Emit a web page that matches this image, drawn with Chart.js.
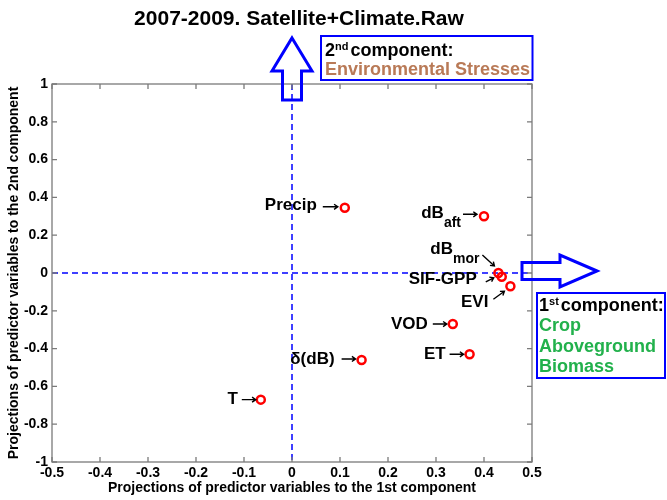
<!DOCTYPE html>
<html>
<head>
<meta charset="utf-8">
<script src="https://cdn.jsdelivr.net/npm/chart.js@4/dist/chart.umd.min.js"></script>
<style>
  html, body { margin: 0; padding: 0; background: #fff; }
  #wrap { width: 667px; height: 500px; }
</style>
</head>
<body>
<div id="wrap"><canvas id="c" width="667" height="500"></canvas></div>
<script>
// Predictor variables and their projections onto the two components
const categories = ['Precip', 'δ(dB)', 'T', 'dB_aft', 'dB_mor', 'SIF-GPP', 'EVI', 'VOD', 'ET'];
const comp1 = [0.11, 0.145, -0.065, 0.40, 0.43, 0.437, 0.455, 0.335, 0.37];
const comp2 = [0.345, -0.46, -0.67, 0.30, 0.0, -0.02, -0.07, -0.27, -0.43];

// Label text: main part and TeX-style subscript
const labelMain = ['Precip', 'δ(dB)', 'T', 'dB', 'dB', 'SIF-GPP', 'EVI', 'VOD', 'ET'];
const labelSub  = ['', '', '', 'aft', 'mor', '', '', '', ''];

// Axis ticks
const xTicks = [-0.5, -0.4, -0.3, -0.2, -0.1, 0, 0.1, 0.2, 0.3, 0.4, 0.5];
const yTicks = [-1, -0.8, -0.6, -0.4, -0.2, 0, 0.2, 0.4, 0.6, 0.8, 1];

const titleText = '2007-2009. Satellite+Climate.Raw';
const xTitle = 'Projections of predictor variables to the 1st component';
const yTitle = 'Projections of predictor variables to the 2nd component';

// Label placement relative to each marker (pixels): right end of text,
// vertical centre of text, and the small pointer arrow.
const labelLayout = [
  { tx: -28, ty: -2,  a: [-22, -1, -7, -1] },
  { tx: -27, ty: -1,  a: [-20, -1, -6, -1] },
  { tx: -23, ty: 0,   a: [-19, 0, -5, 0] },
  { tx: -23, ty: -3,  a: [-21, -2, -7, -2] },
  { tx: -19, ty: -24, a: [-16, -18, -4, -7] },
  { tx: -25, ty: 3,   a: [-16, 5, -8, 1] },
  { tx: -22, ty: 16,  a: [-17, 13, -6, 5] },
  { tx: -25, ty: 0,   a: [-20, 0, -6, 0] },
  { tx: -24, ty: 0,   a: [-20, 0, -6, 0] }
];

const FONT = '"Liberation Sans", Arial, Helvetica, sans-serif';
const BLUE = '#0000ff';
const BROWN = '#b97a57';
const GREEN = '#22b14c';

function fmt(v) { return String(Number(v.toFixed(1))); }

function arrowLine(ctx, x1, y1, x2, y2) {
  const ang = Math.atan2(y2 - y1, x2 - x1);
  const h = 4.5;
  ctx.beginPath();
  ctx.moveTo(x1, y1);
  ctx.lineTo(x2, y2);
  ctx.moveTo(x2 - h * Math.cos(ang - 0.6), y2 - h * Math.sin(ang - 0.6));
  ctx.lineTo(x2, y2);
  ctx.lineTo(x2 - h * Math.cos(ang + 0.6), y2 - h * Math.sin(ang + 0.6));
  ctx.stroke();
}

const decor = {
  id: 'decor',
  beforeDatasetsDraw(chart) {
    const { ctx, chartArea: ca, scales: { x, y } } = chart;
    const x0 = x.getPixelForValue(0), y0 = y.getPixelForValue(0);
    ctx.save();
    // dashed zero lines
    ctx.strokeStyle = BLUE;
    ctx.lineWidth = 1.5;
    ctx.setLineDash([6, 4]);
    ctx.beginPath();
    ctx.moveTo(ca.left, y0); ctx.lineTo(ca.right, y0);
    ctx.moveTo(x0, ca.top); ctx.lineTo(x0, ca.bottom);
    ctx.stroke();
    ctx.setLineDash([]);
    // axes box with inward ticks on all sides
    ctx.strokeStyle = '#7a7a7a';
    ctx.lineWidth = 1.3;
    ctx.strokeRect(ca.left, ca.top, ca.right - ca.left, ca.bottom - ca.top);
    const tl = 5;
    ctx.beginPath();
    xTicks.forEach(v => {
      const px = x.getPixelForValue(v);
      ctx.moveTo(px, ca.bottom); ctx.lineTo(px, ca.bottom - tl);
      ctx.moveTo(px, ca.top); ctx.lineTo(px, ca.top + tl);
    });
    yTicks.forEach(v => {
      const py = y.getPixelForValue(v);
      ctx.moveTo(ca.left, py); ctx.lineTo(ca.left + tl, py);
      ctx.moveTo(ca.right, py); ctx.lineTo(ca.right - tl, py);
    });
    ctx.stroke();
    ctx.restore();
  },
  afterDraw(chart) {
    const { ctx, chartArea: ca, scales: { x, y } } = chart;
    const x0 = x.getPixelForValue(0), y0 = y.getPixelForValue(0);
    ctx.save();
    ctx.fillStyle = '#000';
    ctx.textBaseline = 'middle';

    // title
    ctx.font = 'bold 21px ' + FONT;
    ctx.textAlign = 'center';
    ctx.fillText(titleText, 299, 19);

    // axis titles
    ctx.font = 'bold 14px ' + FONT;
    ctx.fillText(xTitle, (ca.left + ca.right) / 2, 488);
    ctx.save();
    ctx.translate(14, (ca.top + ca.bottom) / 2);
    ctx.rotate(-Math.PI / 2);
    ctx.fillText(yTitle, 0, 0);
    ctx.restore();

    // point labels with pointer arrows
    ctx.textAlign = 'left';
    ctx.strokeStyle = '#000';
    ctx.lineWidth = 1.4;
    comp1.forEach((v, i) => {
      const px = x.getPixelForValue(v);
      const py = y.getPixelForValue(comp2[i]);
      const L = labelLayout[i];
      ctx.font = 'bold 17px ' + FONT;
      const wm = ctx.measureText(labelMain[i]).width;
      ctx.font = 'bold 14px ' + FONT;
      const ws = labelSub[i] ? ctx.measureText(labelSub[i]).width : 0;
      const sx = px + L.tx - wm - ws;
      ctx.font = 'bold 17px ' + FONT;
      ctx.fillText(labelMain[i], sx, py + L.ty);
      if (labelSub[i]) {
        ctx.font = 'bold 14px ' + FONT;
        ctx.fillText(labelSub[i], sx + wm, py + L.ty + 10);
      }
      arrowLine(ctx, px + L.a[0], py + L.a[1], px + L.a[2], py + L.a[3]);
    });

    // big outline arrows marking the component directions
    ctx.strokeStyle = BLUE;
    ctx.lineWidth = 3;
    ctx.lineJoin = 'miter';
    ctx.beginPath();
    ctx.moveTo(x0, 38);
    ctx.lineTo(x0 + 20, 71); ctx.lineTo(x0 + 9.5, 71); ctx.lineTo(x0 + 9.5, 100);
    ctx.lineTo(x0 - 9.5, 100); ctx.lineTo(x0 - 9.5, 71); ctx.lineTo(x0 - 20, 71);
    ctx.closePath();
    ctx.stroke();
    const ay = y0 - 2;
    ctx.beginPath();
    ctx.moveTo(597, ay);
    ctx.lineTo(560, ay - 16); ctx.lineTo(560, ay - 8.5); ctx.lineTo(522, ay - 8.5);
    ctx.lineTo(522, ay + 8.5); ctx.lineTo(560, ay + 8.5); ctx.lineTo(560, ay + 16);
    ctx.closePath();
    ctx.stroke();

    // component boxes
    ctx.lineWidth = 2;
    ctx.strokeRect(321, 36, 211.5, 44);
    ctx.strokeRect(537, 293, 128, 85);
    ctx.textBaseline = 'alphabetic';

    function supLine(num, sup, rest, x, base) {
      ctx.fillStyle = '#000';
      ctx.font = 'bold 18px ' + FONT;
      ctx.fillText(num, x, base);
      let cx = x + ctx.measureText(num).width;
      ctx.font = 'bold 11px ' + FONT;
      ctx.fillText(sup, cx, base - 6);
      cx += ctx.measureText(sup).width + 2;
      ctx.font = 'bold 18px ' + FONT;
      ctx.fillText(rest, cx, base);
    }
    supLine('2', 'nd', 'component:', 325, 56);
    ctx.fillStyle = BROWN;
    ctx.font = 'bold 18px ' + FONT;
    ctx.fillText('Environmental Stresses', 325, 75);

    supLine('1', 'st', 'component:', 539, 311);
    ctx.fillStyle = GREEN;
    ctx.font = 'bold 18px ' + FONT;
    ctx.fillText('Crop', 539, 331);
    ctx.fillText('Aboveground', 539, 352);
    ctx.fillText('Biomass', 539, 372);
    ctx.restore();
  }
};

new Chart(document.getElementById('c'), {
  type: 'scatter',
  data: {
    datasets: [{
      label: 'Projections',
      data: comp1.map((v, i) => ({ x: v, y: comp2[i] })),
      pointStyle: 'circle',
      radius: 4,
      borderWidth: 2.5,
      borderColor: '#ff0000',
      backgroundColor: 'rgba(0,0,0,0)',
      clip: false
    }]
  },
  options: {
    responsive: false,
    animation: false,
    layout: { padding: { top: 84, right: 135, bottom: 0, left: 0 } },
    plugins: { legend: { display: false }, tooltip: { enabled: false }, title: { display: false } },
    scales: {
      x: {
        type: 'linear', min: -0.5, max: 0.5,
        afterFit: s => { s.height = 38; },
        afterBuildTicks: s => { s.ticks = xTicks.map(v => ({ value: v })); },
        grid: { display: false, drawTicks: false },
        border: { display: false },
        ticks: { autoSkip: false, maxRotation: 0, padding: 3, color: '#000',
                 font: { family: FONT, size: 14, weight: 'bold' }, callback: v => fmt(v) }
      },
      y: {
        type: 'linear', min: -1, max: 1,
        afterFit: s => { s.width = 52; },
        afterBuildTicks: s => { s.ticks = yTicks.map(v => ({ value: v })); },
        grid: { display: false, drawTicks: false },
        border: { display: false },
        ticks: { autoSkip: false, padding: 4, color: '#000',
                 font: { family: FONT, size: 14, weight: 'bold' }, callback: v => fmt(v) }
      }
    }
  },
  plugins: [decor]
});
</script>
</body>
</html>
